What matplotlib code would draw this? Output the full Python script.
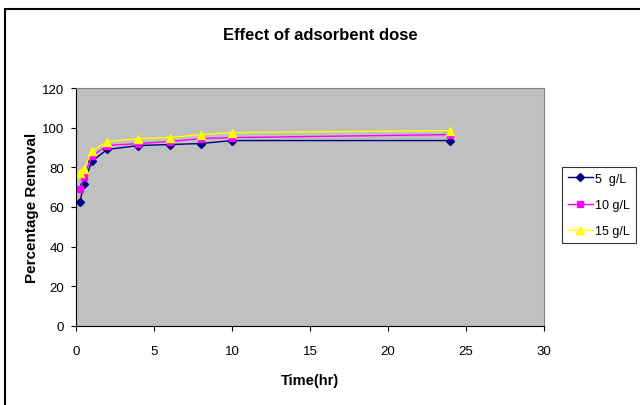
import matplotlib.pyplot as plt
from matplotlib.patches import Rectangle

plt.rcParams['font.family'] = ['Liberation Sans', 'DejaVu Sans']

# data
time_hr = [0.25, 0.5, 1, 2, 4, 6, 8, 10, 24]
dose_5 = [62.5, 71.5, 83, 89, 91, 91.5, 92, 93.5, 93.5]
dose_10 = [69, 75, 85.5, 91, 92, 93, 94.5, 95, 96.5]
dose_15 = [77, 79, 88, 93, 94.5, 95, 96.5, 97.5, 98.5]

fig = plt.figure(figsize=(6.4, 4.06), dpi=100)
ax = fig.add_axes([76 / 640, 79 / 406, 468 / 640, 238 / 406])

ax.set_facecolor('#C0C0C0')
ax.plot(time_hr, dose_5, color='#000080', marker='D', markersize=4, linewidth=1, label='5  g/L')
ax.plot(time_hr, dose_10, color='#FF00FF', marker='s', markersize=5, linewidth=1, label='10 g/L')
ax.plot(time_hr, dose_15, color='#FFFF00', marker='^', markersize=6, linewidth=1, label='15 g/L')

ax.set_xlim(0, 30)
ax.set_ylim(0, 120)
ax.set_xticks(range(0, 31, 5))
ax.set_yticks(range(0, 121, 20))
ax.tick_params(direction='out', length=3.5, labelsize=9.5, width=0.8)
ax.tick_params(axis='x', pad=10)
ax.tick_params(axis='y', pad=5)

for side in ['top', 'right']:
    ax.spines[side].set_color('#808080')
for side in ['left', 'bottom']:
    ax.spines[side].set_color('black')

ax.set_xlabel('Time(hr)', fontsize=10.5, fontweight='bold', labelpad=12)
ax.set_ylabel('Percentage Removal', fontsize=11, fontweight='bold', labelpad=2)
fig.text(0.5, 1 - 35 / 406, 'Effect of adsorbent dose', ha='center', va='center',
         fontsize=12, fontweight='bold')

leg = fig.legend(loc='upper left', bbox_to_anchor=(562 / 640, 1 - 168 / 406),
                 fontsize=9, frameon=True, fancybox=False, edgecolor='black',
                 handlelength=2.0, borderpad=0.45, labelspacing=1.15, handletextpad=0.2,
                 borderaxespad=0)
leg.get_frame().set_linewidth(0.8)

# outer chart border
fig.patches.append(Rectangle((5 / 640, -0.05), 1.1, 1 - 10 / 406 + 0.05,
                             transform=fig.transFigure, fill=False,
                             edgecolor='black', linewidth=1.5))

fig.savefig('out.png', dpi=100)
